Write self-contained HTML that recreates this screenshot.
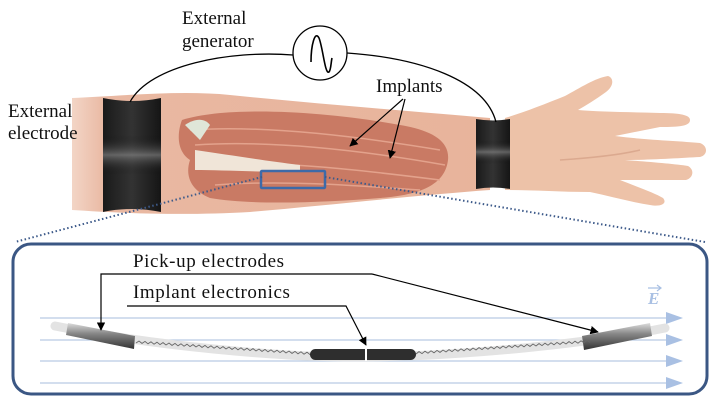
<!DOCTYPE html>
<html><head><meta charset="utf-8"><style>
html,body{margin:0;padding:0;background:#fff;}
svg{display:block}
text{font-family:"Liberation Serif",serif;fill:#111}
</style></head><body>
<svg width="720" height="404" viewBox="0 0 720 404" xmlns="http://www.w3.org/2000/svg">
<defs>
<linearGradient id="band" x1="0" x2="1" y1="0" y2="0">
<stop offset="0" stop-color="#1a1a1a"/><stop offset="0.5" stop-color="#333"/><stop offset="1" stop-color="#151515"/>
</linearGradient>
<linearGradient id="bandv" x1="0" x2="0" y1="0" y2="1">
<stop offset="0" stop-color="#000" stop-opacity="0"/><stop offset="0.5" stop-color="#999" stop-opacity="0.55"/><stop offset="1" stop-color="#000" stop-opacity="0"/>
</linearGradient>
<linearGradient id="cyl" x1="0" x2="0" y1="0" y2="1">
<stop offset="0" stop-color="#ddd"/><stop offset="0.4" stop-color="#888"/><stop offset="1" stop-color="#333"/>
</linearGradient>
<linearGradient id="skin" x1="0" x2="1" y1="0" y2="0">
<stop offset="0" stop-color="#f3d5c6"/><stop offset="0.08" stop-color="#e9b8a2"/><stop offset="1" stop-color="#e8b49b"/>
</linearGradient>
<marker id="ar" viewBox="0 0 10 10" refX="9" refY="5" markerWidth="7" markerHeight="7" orient="auto"><path d="M0,0L10,5L0,10z" fill="#000"/></marker>
</defs>
<!-- forearm skin -->
<path d="M72,98 C120,96 180,90 230,95 C320,104 420,112 490,118 L490,190 C420,195 330,205 250,212 C180,216 120,213 72,210 Z" fill="url(#skin)"/>
<!-- hand -->
<path d="M505,118 C525,112 545,104 565,96 C580,88 595,78 608,76 C614,78 614,86 606,92 C595,100 585,106 578,110 C600,112 630,112 660,113 C680,113 690,115 690,120 C690,126 680,127 660,127 L615,136 C645,140 680,141 700,143 C708,146 708,155 700,157 C680,158 650,160 625,160 C650,162 675,164 688,166 C695,170 693,178 686,180 C665,180 640,180 620,180 C635,186 655,193 663,198 C668,204 660,207 650,205 C630,202 610,196 590,192 C560,192 535,190 505,190 Z" fill="#edc2a8"/>
<path d="M560,160 C590,158 620,155 640,150" stroke="#dba98f" stroke-width="1.5" fill="none"/>
<!-- muscles -->
<path d="M182,120 C230,105 330,112 400,125 C430,130 450,140 448,160 C445,185 420,195 380,198 C320,203 250,205 210,198 C190,190 185,175 190,160 C175,150 178,130 182,120 Z" fill="#c97a64"/>
<path d="M190,130 C260,125 350,135 440,150 M195,145 C270,140 360,150 445,165 M200,165 C280,160 360,170 440,180 M215,185 C280,180 350,185 420,190" stroke="#e3a28c" stroke-width="1.5" fill="none"/>
<path d="M185,125 C195,118 205,118 210,125 L200,140 Z" fill="#dfe6d8"/>
<path d="M195,150 C230,155 260,160 300,165 L300,172 C260,172 220,170 195,170 Z" fill="#f0e5d8"/>
<!-- bands -->
<path d="M103,98 Q132,104 161,98 L161,212 Q132,206 103,212 Z" fill="url(#band)"/>
<rect x="103" y="135" width="58" height="40" fill="url(#bandv)"/>
<path d="M476,119 Q493,122 510,119 L510,189 Q493,186 476,189 Z" fill="url(#band)"/>
<rect x="476" y="140" width="34" height="24" fill="url(#bandv)"/>
<!-- wires -->
<path d="M130,102 C150,65 230,50 293,55" stroke="#000" stroke-width="1.3" fill="none"/>
<path d="M347,53 C420,58 485,80 496,122" stroke="#000" stroke-width="1.3" fill="none"/>
<circle cx="320" cy="53" r="27" fill="#fff" stroke="#000" stroke-width="1.3"/>
<path d="M311,62 C311,45 315,30 319,38 C323,48 325,75 329,72 C331,70 331,62 332,58" stroke="#000" stroke-width="1.6" fill="none"/>
<text x="182" y="24" font-size="19">External</text>
<text x="182" y="47" font-size="19">generator</text>
<text x="8" y="117" font-size="19">External</text>
<text x="8" y="139" font-size="19">electrode</text>
<text x="376" y="92" font-size="19">Implants</text>
<line x1="403" y1="99" x2="350" y2="146" stroke="#000" stroke-width="1.2" marker-end="url(#ar)"/>
<line x1="405" y1="99" x2="390" y2="158" stroke="#000" stroke-width="1.2" marker-end="url(#ar)"/>
<rect x="261" y="171" width="64" height="17" fill="none" stroke="#3d6aa8" stroke-width="2.5" rx="1"/>
<line x1="262" y1="177" x2="15" y2="242" stroke="#3d5a8a" stroke-width="2" stroke-dasharray="1.5,2.5"/>
<line x1="325" y1="177" x2="705" y2="242" stroke="#3d5a8a" stroke-width="2" stroke-dasharray="1.5,2.5"/>
<!-- bottom box -->
<rect x="13" y="244" width="694" height="150" rx="18" fill="#fff" stroke="#3b5784" stroke-width="3"/>
<g stroke="#b9cbe3" stroke-width="1.3">
<line x1="40" y1="318" x2="670" y2="318"/><line x1="40" y1="340" x2="670" y2="340"/>
<line x1="40" y1="361" x2="670" y2="361"/><line x1="40" y1="383" x2="670" y2="383"/>
</g>
<g fill="#a9c0e3">
<path d="M666,312L683,318L666,324z"/><path d="M666,334L683,340L666,346z"/>
<path d="M666,355L683,361L666,367z"/><path d="M666,377L683,383L666,389z"/>
</g>
<text x="648" y="304" font-size="17" font-style="italic" font-weight="bold" style="fill:#a9c0e3">E</text>
<path d="M648,288L661,288M657,285L661,288L657,291" stroke="#a9c0e3" stroke-width="1.2" fill="none"/>
<!-- implant -->
<path d="M55,326 C150,345 280,358 365,357 C460,356 580,345 665,328" stroke="#e3e3e3" stroke-width="9" fill="none" stroke-linecap="round"/>
<path d="M68,323 L135,336 L134,349 L66,335 Z" fill="url(#cyl)"/>
<path d="M582,336 L650,323 L652,336 L584,350 Z" fill="url(#cyl)"/>
<path d="M136,343 l3,-2 l3,2.4 l3,-2 l3,2.4 l3,-2 l3,2.4 l3,-2 l3,2.4 l3,-2 l3,2.4 l3,-2 l3,2.4 l3,-2 l3,2.4 l3,-2 l3,2.4 l3,-2 l3,2.4 l3,-2 l3,2.4 l3,-2 l3,2.4 l3,-2 l3,2.4 l3,-2 l3,2.4 l3,-2 l3,2.4 l3,-2 l3,2.4 l3,-2 l3,2.4 l3,-2 l3,2.4 l3,-2 l3,2.4 l3,-2 l3,2.4 l3,-2 l3,2.4 l3,-2 l3,2.4 l3,-2 l3,2.4 l3,-2 l3,2.4 l3,-2 l3,2.4 l3,-2 l3,2.4 l3,-2 l3,2.4 l3,-2 l3,2.4 l3,-2 l3,2.4 l3,-2 l3,2.4 l3,-2 l3,2.4 l3,-2 l3,2.4" stroke="#666" stroke-width="0.9" fill="none"/>
<path d="M416,354 l3,-2.4 l3,2 l3,-2.4 l3,2 l3,-2.4 l3,2 l3,-2.4 l3,2 l3,-2.4 l3,2 l3,-2.4 l3,2 l3,-2.4 l3,2 l3,-2.4 l3,2 l3,-2.4 l3,2 l3,-2.4 l3,2 l3,-2.4 l3,2 l3,-2.4 l3,2 l3,-2.4 l3,2 l3,-2.4 l3,2 l3,-2.4 l3,2 l3,-2.4 l3,2 l3,-2.4 l3,2 l3,-2.4 l3,2 l3,-2.4 l3,2 l3,-2.4 l3,2 l3,-2.4 l3,2 l3,-2.4 l3,2 l3,-2.4 l3,2 l3,-2.4 l3,2 l3,-2.4 l3,2 l3,-2.4 l3,2 l3,-2.4 l3,2 l3,-2.4 l3,2 l3,-2.4 l3,2" stroke="#666" stroke-width="0.9" fill="none"/>
<rect x="310" y="349" width="106" height="11" rx="5.5" fill="#2e2e2e"/>
<line x1="366" y1="348" x2="366" y2="361" stroke="#fff" stroke-width="2"/>
<text x="133" y="267" font-size="19" letter-spacing="0.6">Pick-up electrodes</text>
<text x="133" y="298" font-size="19" letter-spacing="0.6">Implant electronics</text>
<polyline points="372,274 101,274 101,330" fill="none" stroke="#000" stroke-width="1.2" marker-end="url(#ar)"/>
<line x1="372" y1="274" x2="598" y2="332" stroke="#000" stroke-width="1.2" marker-end="url(#ar)"/>
<polyline points="127,306 346,306 366,345" fill="none" stroke="#000" stroke-width="1.2" marker-end="url(#ar)"/>
</svg>
</body></html>
